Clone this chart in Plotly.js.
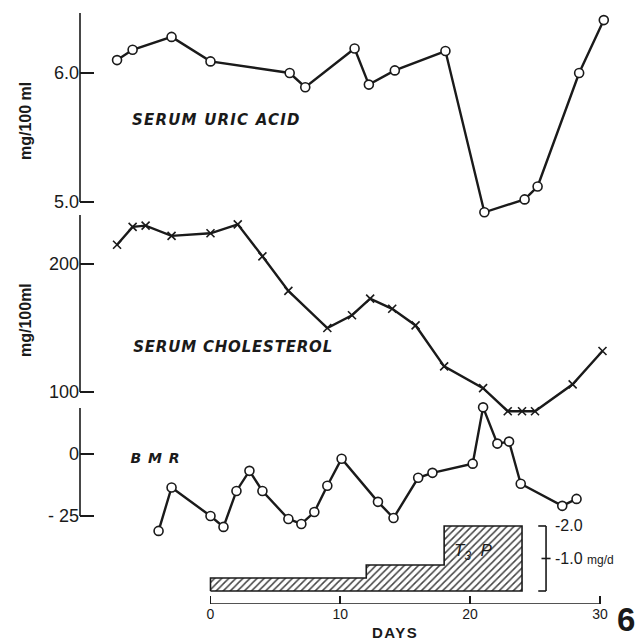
<!DOCTYPE html>
<html>
<head>
<meta charset="utf-8">
<script src="https://cdn.plot.ly/plotly-3.0.1.min.js"></script>
<style>
html,body{margin:0;padding:0;background:#fff;}
#chart{width:638px;height:641px;}
#chart .annotation[data-index="2"] text{letter-spacing:1.2px;}
#chart .annotation[data-index="3"] text{letter-spacing:0.8px;}
#chart .annotation[data-index="4"] text{letter-spacing:1px;}
#chart .annotation[data-index="8"] text{letter-spacing:1.5px;}
</style>
</head>
<body>
<div id="chart"></div>
<script>
// ---- data ----
const uricDays = [-7.2, -6, -3, 0, 6.1, 7.3, 11.1, 12.2, 14.2, 18.1, 21.1, 24.2, 25.2, 28.4, 30.3];
const uricVals = [6.10, 6.18, 6.28, 6.09, 6.00, 5.89, 6.19, 5.91, 6.02, 6.17, 4.92, 5.02, 5.12, 6.00, 6.41];

const cholDays = [-7.2, -6, -5, -3, 0, 2.1, 4, 6, 9, 10.9, 12.3, 14, 15.8, 18, 21, 22.9, 24, 25, 27.9, 30.2];
const cholVals = [215, 229, 230, 222, 224, 231, 206, 179, 150, 160, 173, 165, 152, 120, 103, 85, 85, 85, 106, 132];

const bmrDays = [-4, -3, 0, 1, 2, 3, 4, 6, 7, 8, 9, 10.1, 12.9, 14.1, 16, 17.1, 20.2, 21, 22.1, 23, 23.9, 27.1, 28.2];
const bmrVals = [-31, -13.5, -25, -29.4, -14.9, -6.8, -14.9, -26.2, -28.2, -23.4, -12.8, -1.9, -19.3, -25.8, -9.6, -7.6, -3.9, 18.8, 4.2, 5.0, -12.0, -20.9, -18.1];

const doseDays = [0, 12, 18, 24];       // step boundaries (days)
const doseLevels = [0.4, 0.8, 2.0];     // mg/d for each step

const dayTicks = [0, 10, 20, 30];
const dayTickText = ['0', '10', '20', '30'];
const uricTicks = [5, 6], uricTickText = ['5.0', '6.0'];
const cholTicks = [100, 200], cholTickText = ['100', '200'];
const bmrTicks = [-25, 0], bmrTickText = ['- 25', '0'];
const doseScale = [1, 2], doseScaleText = ['1.0', '2.0'];

// ---- build dose step polygon ----
const doseX = [doseDays[0]], doseY = [0];
for (let i = 0; i < doseLevels.length; i++) {
  doseX.push(doseDays[i], doseDays[i + 1]);
  doseY.push(doseLevels[i], doseLevels[i]);
}
doseX.push(doseDays[doseDays.length - 1], doseDays[0]);
doseY.push(0, 0);

const ink = '#1a1a1a';
const circ = {symbol: 'circle', size: 9, color: '#fff', line: {color: ink, width: 1.6}};

const traces = [
  {x: uricDays, y: uricVals, xaxis: 'x', yaxis: 'y', mode: 'lines+markers', cliponaxis: false,
   line: {color: ink, width: 2.4}, marker: circ},
  {x: cholDays, y: cholVals, xaxis: 'x', yaxis: 'y2', mode: 'lines+markers', cliponaxis: false,
   line: {color: ink, width: 2.4}, marker: {symbol: 'x-thin', size: 8, line: {color: ink, width: 1.6}}},
  {x: bmrDays, y: bmrVals, xaxis: 'x', yaxis: 'y3', mode: 'lines+markers', cliponaxis: false,
   line: {color: ink, width: 2.4}, marker: circ},
  {x: doseX, y: doseY, xaxis: 'x', yaxis: 'y4', mode: 'lines', fill: 'toself', cliponaxis: false,
   fillcolor: '#fff', line: {color: ink, width: 1.6},
   fillpattern: {shape: '/', fgcolor: '#444', bgcolor: '#fff', size: 5, solidity: 0.3}}
];

const FONT = 'Liberation Sans, Arial, sans-serif';
const tickFont = {family: FONT, size: 18, color: ink};
function yax(domain, range, tv, tt) {
  return {domain: domain, range: range, anchor: 'x', showgrid: false, zeroline: false, showline: false,
    ticks: 'inside', ticklen: 14, tickwidth: 1.6, tickcolor: ink, tickvals: tv, ticktext: tt,
    tickfont: tickFont, fixedrange: true};
}

const H = 641;
const pf = py => 1 - py / H;
const px = x => (x - 80) / 540;

function note(x, y, text, font, extra) {
  return Object.assign({xref: 'paper', yref: 'paper', x: x, y: y, text: text, showarrow: false,
    xanchor: 'center', yanchor: 'middle', font: font}, extra || {});
}

const layout = {
  width: 638, height: 641,
  margin: {l: 80, r: 18, t: 0, b: 0, pad: 0},
  paper_bgcolor: '#fff', plot_bgcolor: 'rgba(0,0,0,0)',
  showlegend: false, hovermode: false,
  xaxis: {range: [-10.054, 31.548], anchor: 'y4', showgrid: false, zeroline: false, showline: false,
    ticks: 'inside', ticklen: 8, tickwidth: 1.6, tickcolor: ink, tickvals: dayTicks, ticktext: dayTickText,
    tickfont: {family: FONT, size: 14, color: ink}, fixedrange: true},
  yaxis: yax([pf(215), pf(5)], [4.8992, 6.5271], uricTicks, uricTickText),
  yaxis2: yax([pf(430), pf(205)], [70.3125, 246.09], cholTicks, cholTickText),
  yaxis3: yax([pf(545), pf(400)], [-36.69, 21.77], bmrTicks, bmrTickText),
  yaxis4: {domain: [pf(604), pf(515)], range: [-0.4, 2.338], anchor: 'x', visible: false, fixedrange: true},
  shapes: [
    // y axis lines
    {type: 'line', xref: 'paper', yref: 'y', x0: 0, x1: 0, y0: 5.0, y1: 6.465, line: {color: ink, width: 1.6}},
    {type: 'line', xref: 'paper', yref: 'y2', x0: 0, x1: 0, y0: 100, y1: 238.3, line: {color: ink, width: 1.6}},
    {type: 'line', xref: 'paper', yref: 'y3', x0: 0, x1: 0, y0: -25, y1: 18.55, line: {color: ink, width: 1.6}},
    // x axis line (days 0-30)
    {type: 'line', xref: 'x', yref: 'y4', x0: dayTicks[0], x1: dayTicks[dayTicks.length - 1], y0: -0.4, y1: -0.4, line: {color: ink, width: 1.6}},
    // dose scale bracket
    {type: 'line', xref: 'x', yref: 'y4', x0: 25.85, x1: 25.85, y0: 0, y1: doseScale[1], line: {color: ink, width: 1.6}},
    {type: 'line', xref: 'x', yref: 'y4', x0: 25.25, x1: 25.85, y0: doseScale[1], y1: doseScale[1], line: {color: ink, width: 1.6}},
    {type: 'line', xref: 'x', yref: 'y4', x0: 25.25, x1: 25.85, y0: 0, y1: 0, line: {color: ink, width: 1.6}},
    {type: 'line', xref: 'x', yref: 'y4', x0: 25.5, x1: 26.2, y0: doseScale[0], y1: doseScale[0], line: {color: ink, width: 1.6}}
  ],
  annotations: [
    note(px(25), pf(121), '<b>mg/100 ml</b>', {family: FONT, size: 16, color: ink}, {textangle: -90}),
    note(px(25), pf(320), '<b>mg/100ml</b>', {family: FONT, size: 16, color: ink}, {textangle: -90}),
    note(px(139), pf(120), '<b><i>SERUM URIC ACID</i></b>', {family: 'DejaVu Sans, sans-serif', size: 15, color: ink}, {xanchor: 'left'}),
    note(px(138), pf(347), '<b><i>SERUM CHOLESTEROL</i></b>', {family: 'DejaVu Sans, sans-serif', size: 15, color: ink}, {xanchor: 'left'}),
    note(px(131), pf(458), '<b><i>B M R</i></b>', {family: 'DejaVu Sans, sans-serif', size: 14, color: ink}, {xanchor: 'left'}),
    note(px(473), pf(552), '<i>T<sub>3</sub>  P</i>', {family: FONT, size: 17, color: ink}),
    {xref: 'x', yref: 'y4', x: 26.35, y: doseScale[1], xanchor: 'left', yanchor: 'middle', text: '-' + doseScaleText[1],
     showarrow: false, font: {family: FONT, size: 16, color: ink}},
    {xref: 'x', yref: 'y4', x: 26.35, y: doseScale[0], xanchor: 'left', yanchor: 'middle',
     text: '-' + doseScaleText[0] + ' <span style="font-size:12px">mg/d</span>',
     showarrow: false, font: {family: FONT, size: 16, color: ink}},
    note(px(395), pf(632), '<b>DAYS</b>', {family: FONT, size: 15, color: ink}),
    note(px(615), pf(619), '<b>6</b>', {family: FONT, size: 33, color: ink}, {xanchor: 'left'})
  ]
};

Plotly.newPlot('chart', traces, layout, {staticPlot: true, displayModeBar: false});
</script>
</body>
</html>
